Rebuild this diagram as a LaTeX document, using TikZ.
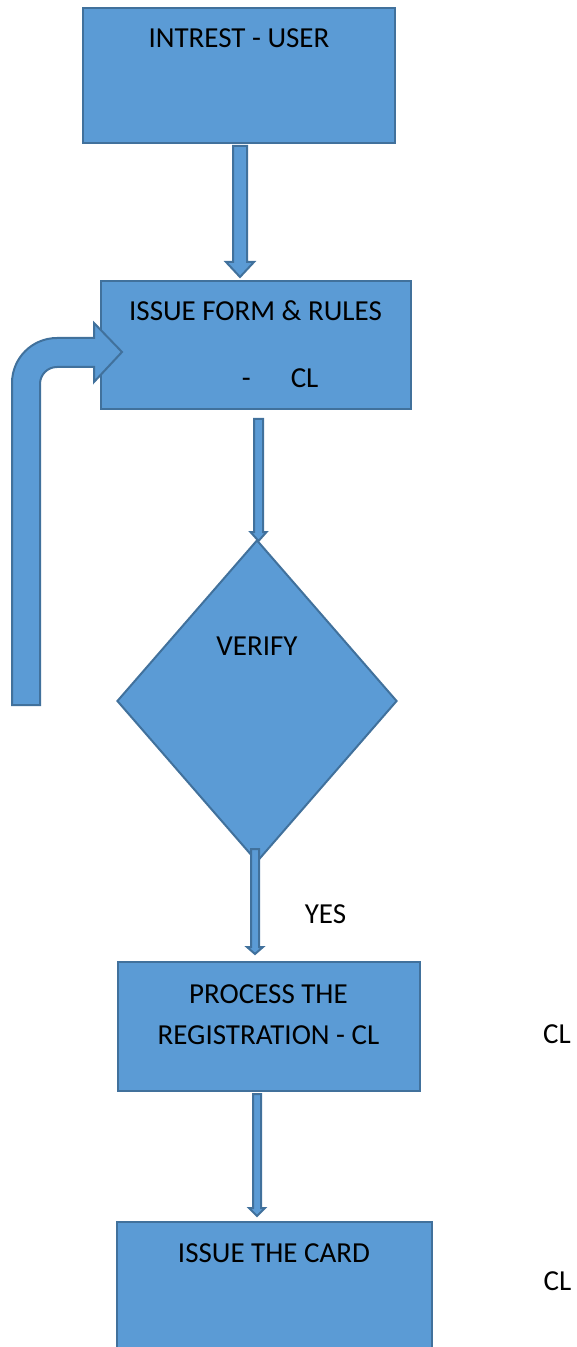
\documentclass[tikz,border=0pt]{standalone}
\usepackage{fontspec}
\setmainfont{Carlito}
\usepackage{tikz}
\usetikzlibrary{positioning, calc, shapes.geometric}
\definecolor{boxblue}{HTML}{5B9BD5}
\definecolor{edgeblue}{HTML}{41719C}

% fat arrow from #1 to the tip #2 (half shaft, half head, head length)
\newcommand{\blockarrow}[5]{%
  \draw[arrowshape] ($(#1)+(-#3,0)$) -- ($(#2)+(-#3,-#5)$) -- ($(#2)+(-#4,-#5)$) -- (#2)
    -- ($(#2)+(#4,-#5)$) -- ($(#2)+(#3,-#5)$) -- ($(#1)+(#3,0)$) -- cycle;}

\begin{document}
\begin{tikzpicture}[x=0.5pt, y=-0.5pt,
    flowbox/.style={rectangle, fill=boxblue, draw=edgeblue, line width=1pt, inner sep=0pt},
    arrowshape/.style={fill=boxblue, draw=edgeblue, line width=1pt, line join=miter},
    lbl/.style={font=\fontsize{14.5pt}{17pt}\selectfont, inner sep=0pt, anchor=base}]
        \useasboundingbox (0,0) rectangle (577,1347);
        % Boxes
        \node[flowbox, minimum width=156pt, minimum height=67.5pt] (intrest) at (239,75.5) {};
        \node[flowbox, minimum width=155pt, minimum height=64pt] (form) at (256,345) {};
        \node[diamond, fill=boxblue, draw=edgeblue, line width=1pt, inner sep=0pt,
              minimum width=140pt, minimum height=161pt] (verify) at (257,701) {};
        \node[flowbox, minimum width=151pt, minimum height=64.5pt] (process) at (269,1026.5) {};
        \node[flowbox, minimum width=157.5pt, minimum height=66.5pt] (card) at (274.5,1288.5) {};
        % Arrows
        \coordinate (a1s) at ($(intrest.south)+(1,2)$);
        \coordinate (a1e) at ($(form.north)+(-16,-3)$);
        \blockarrow{a1s}{a1e}{7}{14}{15}
        \coordinate (a2s) at ($(form.south)+(2.5,9)$);
        \coordinate (a2e) at ($(verify.north)+(1.5,2)$);
        \blockarrow{a2s}{a2e}{4.5}{8}{9}
        \coordinate (a3s) at ($(verify.south)+(-2,-14)$);
        \coordinate (a3e) at ($(process.north)+(-14,-7)$);
        \blockarrow{a3s}{a3e}{4}{8}{7}
        \coordinate (a4s) at ($(process.south)+(-12,2)$);
        \coordinate (a4e) at ($(card.north)+(-17.5,-5)$);
        \blockarrow{a4s}{a4e}{4}{8}{8}
        % Loop back to the form
        \coordinate (loopend) at ($(form.west)+(22,7)$);
        \draw[arrowshape] (12,705) -- (12,383) .. controls (12,358.1) and (32.1,338) .. (57,338)
          -- (94,338) -- (94,323) -- (loopend) -- (94,382) -- (94,367) -- (57,367)
          .. controls (47.6,367) and (40,374.6) .. (40,384) -- (40,705) -- cycle;
        % Labels
        \node[lbl] (t1) at (239,48) {INTREST - USER};
        \node[lbl] (t2) at (255.5,321) {ISSUE FORM \& RULES};
        \node[lbl, anchor=base west] (t3) at (241.5,387) {-\hspace{20pt}CL};
        \node[lbl] (t4) at (257,655) {VERIFY};
        \node[lbl] (yes) at (325.5,923) {YES};
        \node[lbl] (t5) at (268.5,1003) {PROCESS THE};
        \node[lbl] (t6) at (268.5,1044) {REGISTRATION - CL};
        \node[lbl] (cl1) at (557,1043) {CL};
        \node[lbl] (t7) at (274,1262) {ISSUE THE CARD};
        \node[lbl] (cl2) at (557.5,1290) {CL};
      \end{tikzpicture}
\end{document}
